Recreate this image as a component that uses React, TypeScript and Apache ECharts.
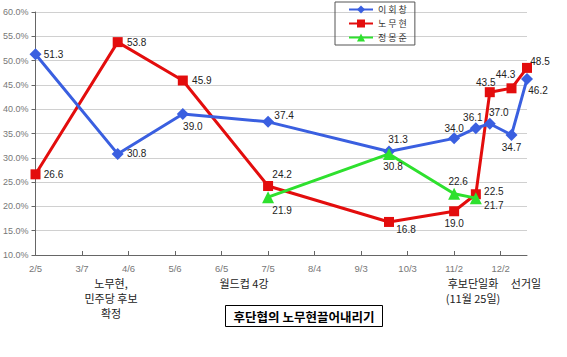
import React, { useEffect, useRef } from "react";
import * as echarts from "echarts";

const startDate = "2002-02-05";
const endDate = "2002-12-19";
const tickDates = ["2002-02-05","2002-03-07","2002-04-06","2002-05-06","2002-06-05","2002-07-05","2002-08-04","2002-09-03","2002-10-03","2002-11-02","2002-12-02"];
const tickLabels = ["2/5","3/7","4/6","5/6","6/5","7/5","8/4","9/3","10/3","11/2","12/2"];

const pollDates = ["2002-02-05","2002-03-30","2002-05-11","2002-07-05","2002-09-21","2002-11-02","2002-11-16","2002-11-25","2002-12-09","2002-12-19"];
const leeHoichang = [51.3, 30.8, 39.0, 37.4, 31.3, 34.0, 36.1, 37.0, 34.7, 46.2];
const rohMoohyun = [26.6, 53.8, 45.9, 24.2, 16.8, 19.0, 22.5, 43.5, 44.3, 48.5];
const chungDates = ["2002-07-05","2002-09-21","2002-11-02","2002-11-16"];
const chungMongjoon = [21.9, 30.8, 22.6, 21.7];

const seriesNames = ["이회창", "노무현", "정몽준"];

// label offsets (style only)
const leeOff = [[18,0],[19,0],[10,12],[16,-6],[9,-12],[0,-10],[-3,-11],[9,-11],[0,13],[11,11]];
const rohOff = [[18,0],[19,0],[19,0],[14,-11],[17,8],[0,12],[18,-3],[-4,-10],[-6,-14],[13,-6]];
const chungOff = [[14,13],[4,13],[4,-12],[18,7]];

const dayOf = (d: string) => Math.round((Date.parse(d) - Date.parse(startDate)) / 86400000);

export default function App() {
  const ref = useRef<HTMLDivElement>(null);
  useEffect(() => {
    if (!ref.current) return;
    const chart = echarts.init(ref.current, null, { renderer: "svg" });
    const tickVals = tickDates.map(dayOf);
    const mk = (dates: string[], vals: number[], offs: number[][]) =>
      dates.map((d, i) => ({ value: [dayOf(d), vals[i]], label: { offset: offs[i] } }));
    const labelBase = {
      show: true,
      position: "inside",
      align: "center",
      verticalAlign: "middle",
      color: "#222",
      fontSize: 10,
      fontFamily: "Liberation Sans",
      formatter: (p: any) => p.value[1].toFixed(1),
    };
    chart.setOption({
      animation: false,
      grid: { left: 35, right: 40, top: 12, bottom: 102, containLabel: false },
      legend: {
        orient: "vertical",
        left: 335,
        top: 2,
        data: seriesNames,
        borderColor: "#555",
        borderWidth: 1,
        padding: [3, 8, 3, 13],
        itemGap: 5,
        itemWidth: 24,
        itemHeight: 10,
        formatter: (n: string) => n.split("").join(" "),
        textStyle: { fontSize: 9, fontFamily: "Noto Sans CJK KR", color: "#333" },
      },
      xAxis: {
        type: "value",
        min: 0,
        max: dayOf(endDate),
        splitLine: { show: false },
        axisLine: { lineStyle: { color: "#666", width: 1 } },
        axisTick: { inside: true, length: 4, customValues: tickVals, lineStyle: { color: "#666" } },
        axisLabel: {
          customValues: tickVals,
          margin: 8,
          color: "#777",
          fontSize: 9.5,
          fontFamily: "Liberation Sans",
          formatter: (v: number) => {
            const i = tickVals.indexOf(v);
            return i >= 0 ? tickLabels[i] : "";
          },
        },
      },
      yAxis: {
        type: "value",
        min: 10,
        max: 60,
        interval: 5,
        axisLine: { show: true, lineStyle: { color: "#666", width: 1 } },
        axisTick: { show: true, length: 4, lineStyle: { color: "#666" } },
        splitLine: { lineStyle: { color: "#d0d0d0", width: 1 } },
        axisLabel: {
          margin: 7,
          color: "#777",
          fontSize: 9,
          fontFamily: "Liberation Sans",
          formatter: (v: number) => v.toFixed(1) + "%",
        },
      },
      series: [
        {
          name: seriesNames[0],
          type: "line",
          data: mk(pollDates, leeHoichang, leeOff),
          symbol: "diamond",
          symbolSize: 12,
          itemStyle: { color: "#3a5fe0" },
          lineStyle: { width: 3, color: "#3a5fe0" },
          label: labelBase,
          z: 3,
        },
        {
          name: seriesNames[1],
          type: "line",
          data: mk(pollDates, rohMoohyun, rohOff),
          symbol: "rect",
          symbolSize: 10,
          itemStyle: { color: "#e30d0d" },
          lineStyle: { width: 3, color: "#e30d0d" },
          label: labelBase,
          z: 2,
        },
        {
          name: seriesNames[2],
          type: "line",
          data: mk(chungDates, chungMongjoon, chungOff),
          symbol: "triangle",
          symbolSize: 12,
          itemStyle: { color: "#2ee02e" },
          lineStyle: { width: 3, color: "#2ee02e" },
          label: labelBase,
          z: 4,
        },
      ],
      graphic: [
        { type: "text", x: 111, y: 298, style: { text: "노무현,\n민주당 후보\n확정", textAlign: "center", textVerticalAlign: "middle", fontSize: 11, lineHeight: 15, fontFamily: "Noto Sans CJK KR", fill: "#222" } },
        { type: "text", x: 244, y: 283, style: { text: "월드컵 4강", textAlign: "center", textVerticalAlign: "middle", fontSize: 11, fontFamily: "Noto Sans CJK KR", fill: "#222" } },
        { type: "text", x: 473, y: 290.5, style: { text: "후보단일화\n(11월 25일)", textAlign: "center", textVerticalAlign: "middle", fontSize: 11, lineHeight: 15, fontFamily: "Noto Sans CJK KR", fill: "#222" } },
        { type: "text", x: 526, y: 283, style: { text: "선거일", textAlign: "center", textVerticalAlign: "middle", fontSize: 11, fontFamily: "Noto Sans CJK KR", fill: "#222" } },
        { type: "rect", shape: { x: 225.5, y: 305.5, width: 157, height: 21 }, style: { fill: "#fff", stroke: "#000", lineWidth: 1 } },
        { type: "text", x: 304, y: 316, style: { text: "후단협의 노무현끌어내리기", textAlign: "center", textVerticalAlign: "middle", fontSize: 12.5, fontWeight: "bold", fontFamily: "Noto Sans CJK KR", fill: "#000" } },
      ],
    });
    return () => chart.dispose();
  }, []);
  return <div ref={ref} style={{ width: 567, height: 357, position: "absolute", left: 0, top: 0 }} />;
}
